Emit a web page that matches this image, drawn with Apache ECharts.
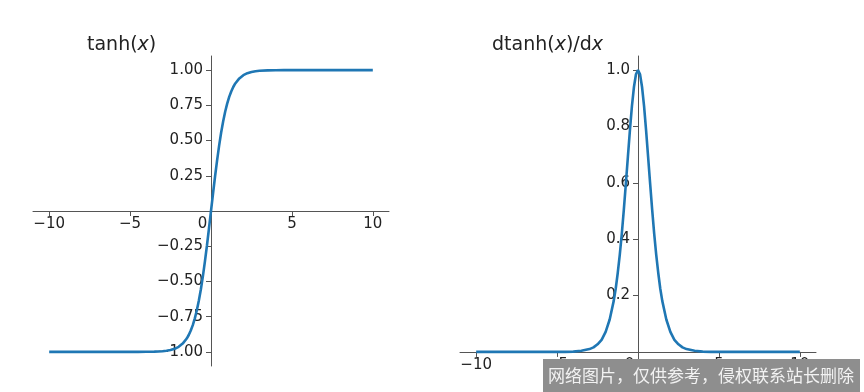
<!DOCTYPE html>
<html><head><meta charset="utf-8">
<script src="https://cdn.jsdelivr.net/npm/echarts@6/dist/echarts.min.js"></script>
<style>html,body{margin:0;padding:0;background:#fff}#c{width:864px;height:392px}</style>
</head><body><div id="c"></div>
<script>
// x samples and values
const xValues = [-10,-9,-8,-7,-6,-5,-4.5,-4,-3.5,-3,-2.75,-2.5,-2.25,-2,-1.75,-1.5,-1.375,-1.25,-1.125,-1,-0.875,-0.75,-0.625,-0.5,-0.375,-0.25,-0.125,0,
  0.125,0.25,0.375,0.5,0.625,0.75,0.875,1,1.125,1.25,1.375,1.5,1.75,2,2.25,2.5,2.75,3,3.5,4,4.5,5,6,7,8,9,10];
const tanhValues = [-1,-1,-1,-1,-1,-1,-1,-0.999,-0.998,-0.995,-0.992,-0.987,-0.978,-0.964,-0.941,-0.905,-0.880,-0.848,-0.810,-0.762,-0.704,-0.635,-0.555,-0.462,-0.358,-0.245,-0.124,0,
  0.124,0.245,0.358,0.462,0.555,0.635,0.704,0.762,0.810,0.848,0.880,0.905,0.941,0.964,0.978,0.987,0.992,0.995,0.998,0.999,1,1,1,1,1,1,1];
const dtanhValues = [0,0,0,0,0,0,0,0.001,0.004,0.010,0.016,0.027,0.043,0.071,0.115,0.181,0.225,0.281,0.345,0.420,0.505,0.597,0.692,0.786,0.872,0.940,0.985,1,
  0.985,0.940,0.872,0.786,0.692,0.597,0.505,0.420,0.345,0.281,0.225,0.181,0.115,0.071,0.043,0.027,0.016,0.010,0.004,0.001,0,0,0,0,0,0,0];
const xTicks = [-10,-5,0,5,10];
const tanhTicks = [-1,-0.75,-0.5,-0.25,0.25,0.5,0.75,1];
const dtanhTicks = [0.2,0.4,0.6,0.8,1.0];
const watermarkText = '网络图片，仅供参考，侵权联系站长删除';

const FONT = 'DejaVu Sans';
const LBL = '#222';
const AX = '#555';
const BLUE = '#1f77b4';

const GRID_TOP = 56, GRID_H = 310, GRID_W = 356;

function fmtNum(v, d) {
  const s = Math.abs(v).toFixed(d);
  return v < 0 ? '\u2212' + s : s;
}
function xFmt(v) {
  if (v === 0) return '{z|0}';
  return '{n|' + fmtNum(v, 0) + '}';
}
const labelRich = {
  n: {fontFamily: FONT, fontSize: 15, color: LBL},
  z: {fontFamily: FONT, fontSize: 15, color: LBL, padding: [0, 17, 0, 0]}
};

// offset so that the x axis sits at y = 0 of its grid
function xAxisCfg(gi, ymin, ymax) {
  const zeroFromBottom = GRID_H * (0 - ymin) / (ymax - ymin);
  return {
    type: 'value', gridIndex: gi, min: -11, max: 11, position: 'bottom',
    offset: -zeroFromBottom,
    axisLine: {show: true, onZero: false, lineStyle: {color: AX, width: 1}},
    axisTick: {show: true, customValues: xTicks, length: 5, lineStyle: {color: AX}},
    axisLabel: {customValues: xTicks, formatter: xFmt, rich: labelRich, margin: 6,
      fontFamily: FONT, fontSize: 15, color: LBL},
    splitLine: {show: false}
  };
}
function yAxisCfg(gi, min, max, ticks, dec) {
  const zeroFromLeft = GRID_W * (0 - (-11)) / 22;
  return {
    type: 'value', gridIndex: gi, min: min, max: max, position: 'left',
    offset: -zeroFromLeft,
    axisLine: {show: true, onZero: false, lineStyle: {color: AX, width: 1}},
    axisTick: {show: true, customValues: ticks, length: 5, lineStyle: {color: AX}},
    axisLabel: {customValues: ticks, formatter: v => fmtNum(v, dec), margin: 8,
      fontFamily: FONT, fontSize: 15, color: LBL},
    splitLine: {show: false}
  };
}

const chart = echarts.init(document.getElementById('c'), null, {renderer: 'canvas'});
chart.setOption({
  animation: false,
  backgroundColor: '#fff',
  grid: [
    {left: 33, top: GRID_TOP, width: GRID_W, height: GRID_H, containLabel: false, outerBoundsMode: 'none'},
    {left: 460, top: GRID_TOP, width: GRID_W, height: GRID_H, containLabel: false, outerBoundsMode: 'none'}
  ],
  xAxis: [xAxisCfg(0, -1.1, 1.1), xAxisCfg(1, -0.05, 1.05)],
  yAxis: [yAxisCfg(0, -1.1, 1.1, tanhTicks, 2), yAxisCfg(1, -0.05, 1.05, dtanhTicks, 1)],
  series: [
    {type: 'line', xAxisIndex: 0, yAxisIndex: 0, showSymbol: false, smooth: false,
      lineStyle: {color: BLUE, width: 2.6}, itemStyle: {color: BLUE},
      data: xValues.map((x, i) => [x, tanhValues[i]])},
    {type: 'line', xAxisIndex: 1, yAxisIndex: 1, showSymbol: false, smooth: false,
      lineStyle: {color: BLUE, width: 2.6}, itemStyle: {color: BLUE},
      data: xValues.map((x, i) => [x, dtanhValues[i]])}
  ],
  graphic: [
    {type: 'text', left: 87, top: 36, z: 10, style: {
      text: '{n|tanh(}{i|x}{n|)}',
      rich: {n: {fontFamily: FONT, fontSize: 19, fill: LBL}, i: {fontFamily: FONT, fontStyle: 'italic', fontSize: 19, fill: LBL}}
    }},
    {type: 'text', left: 492, top: 36, z: 10, style: {
      text: '{n|dtanh(}{i|x}{n|)/d}{i|x}',
      rich: {n: {fontFamily: FONT, fontSize: 19, fill: LBL}, i: {fontFamily: FONT, fontStyle: 'italic', fontSize: 19, fill: LBL}}
    }},
    {type: 'rect', z: 100, shape: {x: 543, y: 359, width: 317, height: 33}, style: {fill: '#8e8e8e'}},
    {type: 'text', z: 101, x: 548, y: 376, style: {
      text: watermarkText, fontFamily: 'Noto Sans CJK SC', fontSize: 17, fill: '#f2f2f2', verticalAlign: 'middle'
    }}
  ]
});
</script></body></html>
